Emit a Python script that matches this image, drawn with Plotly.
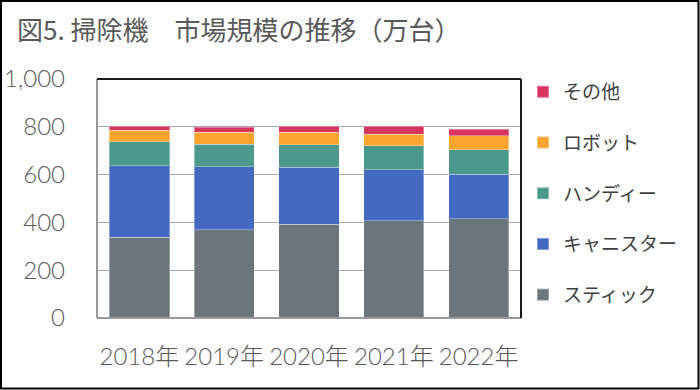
import plotly.graph_objects as go

years = ["2018年", "2019年", "2020年", "2021年", "2022年"]
stick = [338, 370, 392, 406, 415]
canister = [299, 263, 239, 214, 187]
handy = [100, 94, 93, 100, 103]
robot = [48, 50, 53, 49, 58]
other = [18, 22, 26, 34, 27]

series = [
    ("スティック", stick, "#6b757c"),
    ("キャニスター", canister, "#4469c1"),
    ("ハンディー", handy, "#4b998d"),
    ("ロボット", robot, "#fba42f"),
    ("その他", other, "#d5355f"),
]

y_ticks = [0, 200, 400, 600, 800, 1000]
y_labels = ["0", "200", "400", "600", "800", "1,000"]

fig = go.Figure()
n = len(series)
for i, (name, vals, col) in enumerate(series):
    fig.add_trace(go.Bar(
        x=years, y=vals, name=name, legendgroup=name, legendrank=n - i,
        marker=dict(color=col, line=dict(color="rgba(255,255,255,0.35)", width=1)),
    ))

W, H = 700, 390
L, R, T, B = 97, 521, 79, 318
pw, ph = R - L, B - T

def px(x):
    return (x - L) / pw

def py(y):
    return (B - y) / ph

font_fam = "Lato, 'Noto Sans CJK JP', sans-serif"
txt_col = "#595959"

fig.update_layout(
    width=W, height=H,
    margin=dict(l=L, r=W - R, t=T, b=H - B, pad=0, autoexpand=False),
    barmode="stack",
    bargap=0.29,
    plot_bgcolor="white",
    paper_bgcolor="white",
    font=dict(family=font_fam, size=20, color=txt_col),
    title=dict(
        text="図5. 掃除機　市場規模の推移（万台）",
        x=17 / W, xanchor="left",
        y=1 - 31 / H, yanchor="middle",
        font=dict(family="'Noto Sans CJK JP', sans-serif", size=26, color=txt_col),
    ),
    legend=dict(
        x=px(523), xanchor="left",
        y=py(73), yanchor="top",
        traceorder="grouped",
        font=dict(family="'Noto Sans CJK JP', sans-serif", size=19, color="#404040"),
        itemsizing="constant",
        tracegroupgap=23,
        maxheight=380,
        bgcolor="rgba(0,0,0,0)",
    ),
    xaxis=dict(
        showgrid=False, showline=False, ticks="",
        automargin=False,
        ticklabelstandoff=22,
        tickfont=dict(family=font_fam, size=24, color=txt_col, weight=300),
    ),
    yaxis=dict(
        range=[0, 1000],
        tickvals=y_ticks, ticktext=y_labels,
        showgrid=True, gridcolor="#a6a6a6", gridwidth=1,
        showline=False, zeroline=False, ticks="",
        automargin=False,
        ticklabelstandoff=31,
        tickfont=dict(family=font_fam, size=24, color=txt_col, weight=300),
    ),
    shapes=[
        dict(type="line", xref="paper", yref="paper", x0=0, x1=0, y0=0, y1=1,
             line=dict(color="#9a9a9a", width=2)),
        dict(type="line", xref="paper", yref="paper", x0=0, x1=1, y0=0, y1=0,
             line=dict(color="#9a9a9a", width=2)),
        dict(type="line", xref="paper", yref="paper", x0=0, x1=1, y0=1, y1=1,
             line=dict(color="#1a1a1a", width=2)),
        dict(type="line", xref="paper", yref="paper", x0=1, x1=1, y0=0, y1=1,
             line=dict(color="#1a1a1a", width=2)),
        dict(type="rect", xref="paper", yref="paper",
             x0=px(1), x1=px(698.5), y0=py(388.5), y1=py(1),
             line=dict(color="#000000", width=2), fillcolor="rgba(0,0,0,0)"),
    ],
)

fig.write_html(
    "out.html",
    config={"displayModeBar": False},
    post_script="document.body.style.margin='0';document.body.style.padding='0';",
)
